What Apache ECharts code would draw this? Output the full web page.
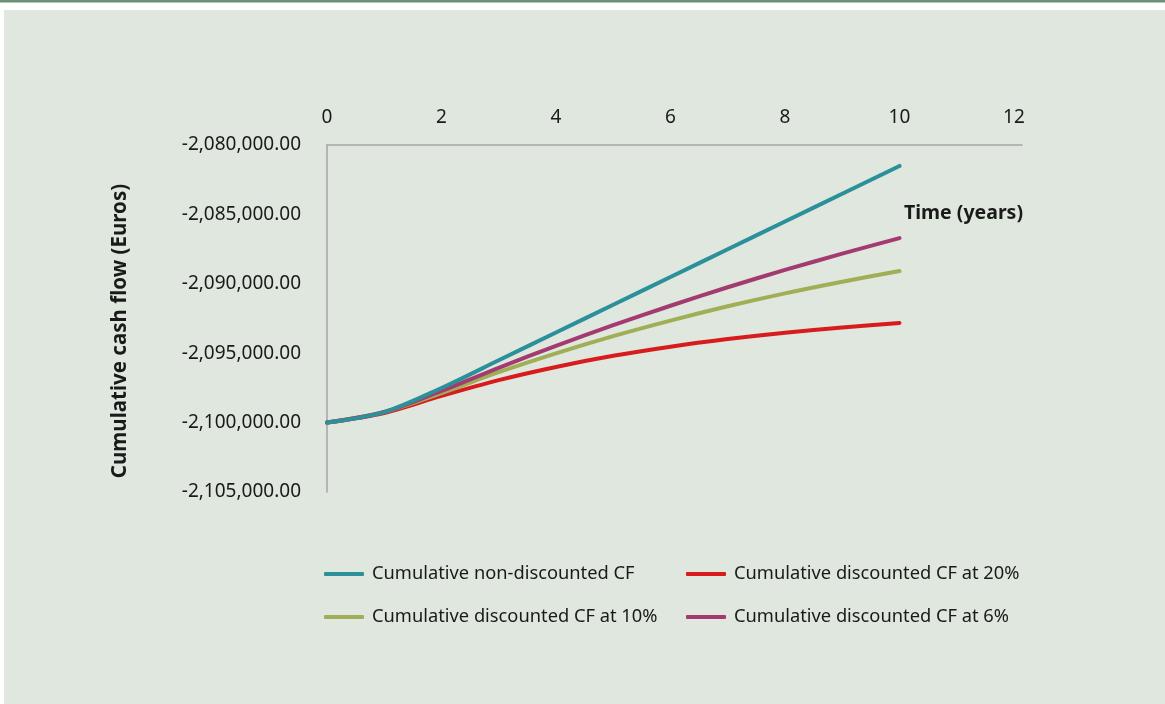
<!DOCTYPE html>
<html>
<head>
<meta charset="utf-8">
<script src="https://cdn.jsdelivr.net/npm/echarts@6/dist/echarts.min.js"></script>
<style>
html,body{margin:0;padding:0;background:#ffffff;}
#chart{width:1165px;height:704px;}
</style>
</head>
<body>
<div id="chart"></div>
<script>
// ---- data ----
const years = [0, 1, 2, 3, 4, 5, 6, 7, 8, 9, 10];
const nonDiscounted = [-2100000, -2099240, -2097510, -2095510, -2093510, -2091510, -2089510, -2087510, -2085510, -2083510, -2081510];
const discounted20 = [-2100000, -2099310, -2098080, -2096940, -2095990, -2095190, -2094530, -2093980, -2093520, -2093140, -2092820];
const discounted10 = [-2100000, -2099240, -2097870, -2096370, -2095010, -2093770, -2092650, -2091620, -2090690, -2089850, -2089080];
const discounted6 = [-2100000, -2099240, -2097720, -2096050, -2094470, -2092980, -2091580, -2090250, -2089000, -2087830, -2086710];
const seriesNames = [
  'Cumulative non-discounted CF',
  'Cumulative discounted CF at 20%',
  'Cumulative discounted CF at 10%',
  'Cumulative discounted CF at 6%'
];
const xTitle = 'Time (years)';
const yTitle = 'Cumulative cash flow (Euros)';

const colors = ['#2b909a', '#d81c1e', '#a0af55', '#a33b70'];
const values = [nonDiscounted, discounted20, discounted10, discounted6];
const font = '"Noto Sans", sans-serif';
const textColor = '#1a1a1a';

const chart = echarts.init(document.getElementById('chart'));
chart.setOption({
  animation: false,
  backgroundColor: '#ffffff',
  textStyle: { fontFamily: font },
  graphic: [
    { type: 'rect', shape: { x: 0, y: 0, width: 1165, height: 2.5 }, style: { fill: '#6b9274' }, z: -10 },
    { type: 'rect', shape: { x: 4, y: 10, width: 1161, height: 694 }, style: { fill: '#dfe7df' }, z: -10 },
    { type: 'text', x: 1023, y: 213, style: { text: xTitle, fill: textColor, font: 'bold 19.5px "Noto Sans", sans-serif', textAlign: 'right', textVerticalAlign: 'middle' } },
    { type: 'text', x: 120, y: 331, rotation: Math.PI / 2, style: { text: yTitle, fill: textColor, font: 'bold 20.5px "Noto Sans", sans-serif', textAlign: 'center', textVerticalAlign: 'middle' } }
  ],
  grid: { left: 327, top: 145, right: 143, bottom: 212, containLabel: false },
  xAxis: {
    type: 'value', position: 'top', min: 0, max: 12.14, interval: 2,
    axisLine: { show: true, onZero: false, lineStyle: { color: '#a6a6a6', width: 1.5 } },
    axisTick: { show: false },
    splitLine: { show: false },
    axisLabel: {
      margin: 18, fontSize: 19, color: textColor, fontFamily: font,
      formatter: v => (Math.abs(v % 2) < 1e-9 ? String(v) : '')
    }
  },
  yAxis: {
    type: 'value', min: -2105000, max: -2080000, interval: 5000,
    axisLine: { show: true, onZero: false, lineStyle: { color: '#a6a6a6', width: 1.5 } },
    axisTick: { show: false },
    splitLine: { show: false },
    axisLabel: {
      margin: 26, fontSize: 19, color: textColor, fontFamily: font,
      formatter: v => v.toLocaleString('en-US', { minimumFractionDigits: 2, maximumFractionDigits: 2 })
    }
  },
  legend: [
    {
      data: [seriesNames[0], seriesNames[2]], orient: 'vertical', left: 324, top: 564, padding: 0,
      itemWidth: 40, itemHeight: 4, icon: 'roundRect', itemGap: 23,
      textStyle: { fontSize: 18.3, color: textColor, fontFamily: font, lineHeight: 20, padding: [0, 0, 0, 3] }
    },
    {
      data: [seriesNames[1], seriesNames[3]], orient: 'vertical', left: 686, top: 564, padding: 0,
      itemWidth: 40, itemHeight: 4, icon: 'roundRect', itemGap: 23,
      textStyle: { fontSize: 18.3, color: textColor, fontFamily: font, lineHeight: 20, padding: [0, 0, 0, 3] }
    }
  ],
  series: seriesNames.map((name, i) => ({
    name, type: 'line', smooth: 0.3, showSymbol: false, symbol: 'none',
    color: colors[i],
    lineStyle: { width: 4, color: colors[i], cap: 'round' },
    z: [4, 1, 2, 3][i],
    data: years.map((y, k) => [y, values[i][k]])
  }))
});
</script>
</body>
</html>
